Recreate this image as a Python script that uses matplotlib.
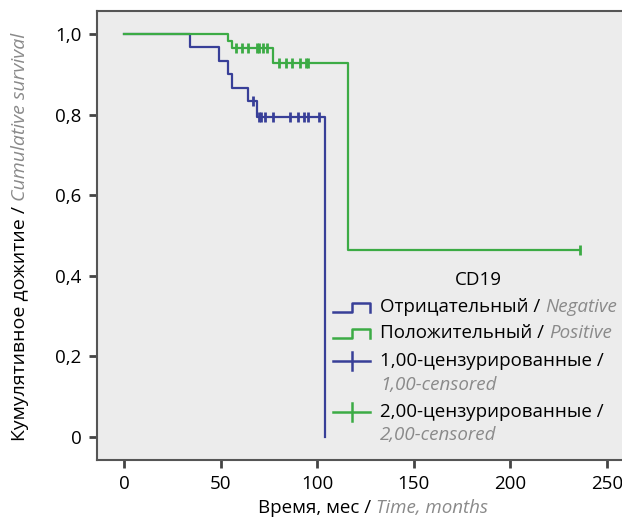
import numpy as np
import matplotlib
matplotlib.use("Agg")
import matplotlib.pyplot as plt
from matplotlib.lines import Line2D

plt.rcParams["font.family"] = ["Open Sans", "DejaVu Sans"]

# Kaplan-Meier steps, CD19 negative group (months, cumulative survival)
neg_time = [0, 34, 49, 54, 56, 64, 69, 104]
neg_surv = [1.0, 0.967, 0.933, 0.900, 0.867, 0.833, 0.794, 0.0]
neg_censored = [67, 70, 71, 73, 77, 86, 90, 93, 95, 101]

# CD19 positive group
pos_time = [0, 54, 56, 77, 116]
pos_surv = [1.0, 0.983, 0.966, 0.928, 0.464]
pos_censored = [58, 61, 64, 69, 70, 72, 74, 80, 84, 87, 91, 94, 95, 236]

x_ticks = [0, 50, 100, 150, 200, 250]
y_ticks = [0, 0.2, 0.4, 0.6, 0.8, 1.0]
y_ticklabels = ["0", "0,2", "0,4", "0,6", "0,8", "1,0"]

blue = "#383f98"
green = "#3cab45"
grey_text = "#8a8a8a"
FS = 13.5

W, H = 622, 520
fig = plt.figure(figsize=(W / 100, H / 100), dpi=100)
ax = fig.add_axes([97 / W, 1 - 460 / H, (W - 97) / W, 449 / H])
ax.set_facecolor("#ececec")


def surv_at(times, surv, t):
    i = np.searchsorted(times, t, side="right") - 1
    return np.asarray(surv)[i]


def draw_km(times, surv, censored, color):
    t = list(times)
    s = list(surv)
    if max(censored) > t[-1] and s[-1] > 0:
        t.append(max(censored))
        s.append(s[-1])
    ax.step(t, s, where="post", color=color, lw=1.6, zorder=3)
    ax.plot(censored, surv_at(times, surv, censored), ls="none", marker="|",
            ms=7, mew=2, color=color, zorder=4)


draw_km(neg_time, neg_surv, neg_censored, blue)
draw_km(pos_time, pos_surv, pos_censored, green)

ax.set_xlim(-14, 257.8)
ax.set_ylim(-0.057, 1.057)
ax.set_xticks(x_ticks)
ax.set_yticks(y_ticks)
ax.set_yticklabels(y_ticklabels)
ax.tick_params(axis="both", length=6, width=2, color="#444444", labelsize=FS,
               pad=5, labelcolor="black")
for side in ["left", "bottom", "top"]:
    ax.spines[side].set_color("#555555")
    ax.spines[side].set_linewidth(1.5)
ax.spines["right"].set_visible(False)


def fx(px):
    return px / W


def fy(py):
    return 1 - py / H


def two_part(x, y, first, second, rotation=0, size=FS):
    # black Russian text followed by the grey italic English part
    if rotation == 0:
        t1 = fig.text(fx(x), fy(y), first, fontsize=size, ha="left", va="center")
        ax.annotate(second, xy=(1, 0), xycoords=t1, ha="left", va="bottom",
                    fontsize=size, color=grey_text, style="italic",
                    annotation_clip=False)
    else:
        t1 = fig.text(fx(x), fy(y), first, fontsize=size, rotation=rotation,
                      ha="center", va="bottom")
        ax.annotate(second, xy=(0.5, 1), xycoords=t1, ha="center", va="bottom",
                    fontsize=size, color=grey_text, style="italic",
                    rotation=rotation, annotation_clip=False)
    return t1


# axis titles
two_part(258, 508, "Время, мес / ", "Time, months")
two_part(20, 441, "Кумулятивное дожитие / ", "Cumulative survival", rotation=90,
         size=14)

# legend drawn by hand
fig.text(fx(478), fy(280), "CD19", fontsize=FS, ha="center", va="center")

for yc, col in [(307, blue), (333, green)]:
    fig.add_artist(Line2D([fx(333), fx(352), fx(352), fx(370), fx(370)],
                          [fy(yc + 5), fy(yc + 5), fy(yc - 4), fy(yc - 4), fy(yc + 5)],
                          color=col, lw=1.8, transform=fig.transFigure))
for yc, col in [(361, blue), (412, green)]:
    fig.add_artist(Line2D([fx(333), fx(370)], [fy(yc), fy(yc)], color=col, lw=1.8,
                          transform=fig.transFigure))
    fig.add_artist(Line2D([fx(352), fx(352)], [fy(yc - 9), fy(yc + 9)], color=col,
                          lw=1.8, transform=fig.transFigure))

two_part(380, 307, "Отрицательный / ", "Negative")
two_part(380, 333, "Положительный / ", "Positive")
fig.text(fx(380), fy(361), "1,00-цензурированные /", fontsize=FS, va="center")
fig.text(fx(380), fy(385), "1,00-censored", fontsize=FS, va="center",
         color=grey_text, style="italic")
fig.text(fx(380), fy(412), "2,00-цензурированные /", fontsize=FS, va="center")
fig.text(fx(380), fy(435), "2,00-censored", fontsize=FS, va="center",
         color=grey_text, style="italic")

fig.savefig("out.png", dpi=100)
